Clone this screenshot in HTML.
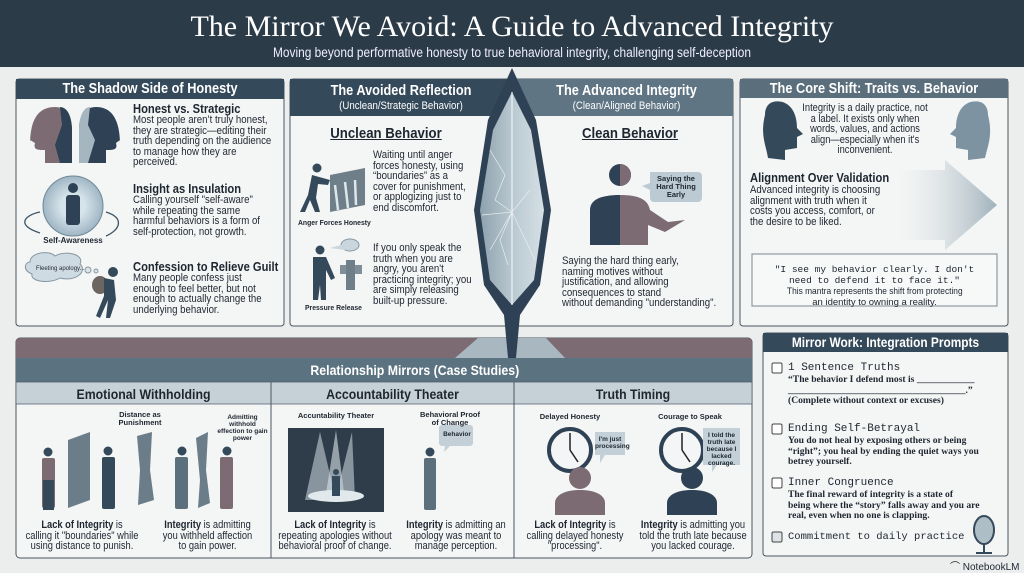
<!DOCTYPE html>
<html><head><meta charset="utf-8">
<style>
*{margin:0;padding:0;box-sizing:border-box}
body{width:1024px;height:571px;background:#eceeee;position:relative;overflow:hidden;font-family:"Liberation Sans Narrow","Liberation Sans",sans-serif;color:#1e2630}
.a{position:absolute}
.t{font-size:10.6px;line-height:10.6px}
.h{font-weight:bold;font-size:13px}
.n{transform:scaleX(.91);transform-origin:0 0;white-space:nowrap}
.h.n{transform:scaleX(.86)}
.nc{transform:scaleX(.88);transform-origin:50% 0}
.ph{position:absolute;color:#fff;font-weight:bold;text-align:center}
.sm{font-size:7.5px;font-weight:bold;text-align:center;line-height:8px}
.mono{font-family:"Liberation Mono",monospace}
.sl{font-family:"Liberation Serif",serif;font-weight:bold;font-size:9.6px;line-height:10.5px}
</style></head><body>
<svg class="a" style="left:0;top:0" width="1024" height="571" viewBox="0 0 1024 571">
<defs>
<linearGradient id="ar" x1="0" x2="1"><stop offset="0" stop-color="#eef1f2" stop-opacity="0.2"/><stop offset="1" stop-color="#9fb1bb"/></linearGradient>
<linearGradient id="mr" x1="0" x2="1"><stop offset="0" stop-color="#8ea2ae"/><stop offset="0.5" stop-color="#b9c8d0"/><stop offset="1" stop-color="#d5e0e5"/></linearGradient>
<radialGradient id="bub"><stop offset="0.4" stop-color="#d6e3ea"/><stop offset="1" stop-color="#9fb6c4"/></radialGradient>
</defs>
<rect x="0" y="0" width="1024" height="67" fill="#2c3b48"/>
<rect x="16" y="79" width="268" height="247" rx="3" fill="#f4f5f5" stroke="#4a5662"/>
<rect x="16" y="79" width="268" height="20" fill="#34495a"/>
<rect x="290" y="79" width="443" height="247" rx="3" fill="#f4f5f5" stroke="#4a5662"/>
<rect x="290" y="79" width="222" height="37" fill="#34495a"/>
<rect x="512" y="79" width="221" height="37" fill="#5f7583"/>
<rect x="740" y="79" width="268" height="247" rx="3" fill="#f4f5f5" stroke="#4a5662"/>
<rect x="740" y="79" width="268" height="19" fill="#5a6e7c"/>
<polygon points="900,170 945,170 945,160 997,205 945,250 945,240 900,240" fill="url(#ar)"/>
<rect x="752" y="254" width="245" height="52" fill="#f7f8f8" stroke="#7b8790"/>
<rect x="16" y="338" width="736" height="220" rx="4" fill="#f4f5f5" stroke="#4a5662"/>
<path d="M20,338 H748 a4,4 0 0 1 4,4 V358 H16 V342 a4,4 0 0 1 4,-4z" fill="#7c6b73"/>
<polygon points="455,358 478,338 546,338 565,358" fill="#a9b8c0"/>
<rect x="16" y="358" width="736" height="24" fill="#5b7380"/>
<rect x="16" y="382" width="736" height="22" fill="#c6d1d7" stroke="#4a5662" stroke-width="0.7"/>
<line x1="271" y1="382" x2="271" y2="558" stroke="#4a5662"/>
<line x1="514" y1="382" x2="514" y2="558" stroke="#4a5662"/>
<rect x="763" y="333" width="245" height="223" rx="3" fill="#f4f5f5" stroke="#4a5662"/>
<rect x="763" y="333" width="245" height="19" fill="#34495a"/>
<path d="M512,68 L536,120 L551,210 L540,285 L520,315 L516,358 L508,358 L504,315 L484,285 L474,210 L488,120 Z" fill="#2f4255"/>
<path d="M512,92 L531,130 L544,210 L534,280 L512,305 L490,280 L480,210 L493,130 Z" fill="url(#mr)"/>
<line x1="512" y1="92" x2="512" y2="305" stroke="#eef3f5" stroke-width="1.2"/>
<path d="M490,150 L505,175 L495,200 L512,212 L500,240 L508,265 M482,215 L512,212 L490,250 M512,212 L530,190 M512,212 L535,260" stroke="#e8eef1" stroke-width="0.7" fill="none"/>
<path d="M30,145 C30,125 35,107 55,107 C68,107 72,118 72,130 V163 H45 L45,150 C38,150 33,150 35,143 L30,140 Z" fill="#7d6b74"/>
<path d="M60,107 C68,107 72,118 72,130 V163 H60 L55,145 L62,125Z" fill="#2f4255"/>
<path d="M120,145 C120,125 115,107 96,107 C83,107 79,118 79,130 V163 H106 L106,150 C113,150 118,150 116,143 L120,140 Z" fill="#2f4255"/>
<path d="M90,107 C83,107 79,118 79,130 V163 H88 L95,140 L88,125Z" fill="#a6b6c0"/>
<circle cx="73" cy="206" r="30" fill="url(#bub)" stroke="#6f8896"/>
<circle cx="73" cy="188" r="5" fill="#2f4255"/><rect x="66" y="195" width="14" height="30" rx="3" fill="#2f4255"/>
<path d="M40,233 C15,225 25,215 40,212 M106,212 C125,218 120,230 106,236" stroke="#3d5566" fill="none" stroke-width="1.3"/>
<path d="M30,262 C30,252 50,250 55,256 C65,250 85,254 80,264 C88,272 75,282 60,278 C50,284 30,282 32,274 C22,270 25,262 30,262Z" fill="#cfdbe2" stroke="#8797a1"/>
<circle cx="88" cy="270" r="3" fill="#dbe4e9" stroke="#8797a1"/><circle cx="96" cy="271" r="2" fill="#dbe4e9" stroke="#8797a1"/>
<circle cx="113" cy="272" r="5" fill="#34495a"/><ellipse cx="100" cy="285" rx="8" ry="9" fill="#6d6560"/><path d="M104,278 L114,280 L116,300 L110,318 L106,318 L108,300 L100,318 L96,316 L104,296Z" fill="#34495a"/>
<polygon points="330,175 365,168 365,205 330,212" fill="#6f7f89"/><path d="M335,185 L338,210 M345,182 L348,208 M355,180 L356,205" stroke="#dde6ea" stroke-width="2.5"/>
<circle cx="317" cy="168" r="4.5" fill="#34495a"/><path d="M312,175 L330,180 L328,185 L318,184 L316,198 L320,212 L315,212 L310,200 L305,212 L300,212 L308,195Z" fill="#34495a"/>
<circle cx="320" cy="250" r="4.5" fill="#34495a"/><path d="M313,257 H326 L335,278 L331,280 L326,270 L326,300 H321 L320,285 L318,300 H313 Z" fill="#34495a"/>
<ellipse cx="350" cy="245" rx="9" ry="6" fill="#c9d6dc" stroke="#8797a1"/><path d="M330,248 L345,244 L345,250Z" fill="#c9d6dc"/>
<rect x="340" y="265" width="22" height="9" fill="#7f8e98"/><rect x="346" y="260" width="9" height="30" fill="#6f7f89"/>
<circle cx="620" cy="175" r="11" fill="#2f4255"/><path d="M620,164 a11,11 0 0 1 0,22z" fill="#7c6b73"/>
<path d="M590,245 V210 C590,200 600,195 620,195 V245Z" fill="#2f4255"/>
<path d="M620,195 C640,195 648,200 650,210 L668,222 L685,220 L665,232 L648,225 V245 H620Z" fill="#7c6b73"/>
<path d="M650,172 H698 a4,4 0 0 1 4,4 V198 a4,4 0 0 1 -4,4 H654 a4,4 0 0 1 -4,-4 V190 L642,186 L650,183Z" fill="#bccbd3"/>
<path d="M765,115 C765,100 778,100 785,103 C795,108 797,120 797,128 L803,134 L797,137 V148 L785,150 V160 L768,158 C766,145 760,135 765,115Z" fill="#34495a"/>
<path d="M988,115 C988,100 975,100 968,103 C958,108 956,120 956,128 L950,134 L956,137 V148 L968,150 V160 L985,158 C988,145 993,135 988,115Z" fill="#7d93a1"/>
<g fill="#34495a">
<circle cx="48" cy="452" r="4.5"/><rect x="42" y="458" width="13" height="50" rx="2" fill="#7c6b73"/><rect x="43" y="480" width="11" height="30"/>
<circle cx="108" cy="451" r="4.5"/><rect x="102" y="457" width="13" height="52" rx="2"/>
<circle cx="182" cy="451" r="4.5"/><rect x="175" y="457" width="13" height="52" rx="2" fill="#5c6f7c"/>
<circle cx="227" cy="451" r="4.5"/><rect x="220" y="457" width="13" height="52" rx="2" fill="#7c6b73"/>
</g>
<polygon points="68,440 90,432 90,500 68,508" fill="#6b7d88"/>
<polygon points="137,436 152,432 150,470 154,500 138,505 140,470" fill="#6b7d88"/>
<polygon points="196,438 208,432 206,470 210,503 198,508 200,480" fill="#6b7d88"/>
<rect x="288" y="428" width="96" height="84" fill="#2f3d4a"/>
<polygon points="320,432 336,500 305,500" fill="#c5d1d7" opacity="0.6"/><polygon points="336,430 345,500 325,500" fill="#dbe3e7" opacity="0.6"/><polygon points="352,432 355,500 335,500" fill="#c5d1d7" opacity="0.6"/>
<ellipse cx="336" cy="496" rx="28" ry="6" fill="#e2e9ec"/>
<circle cx="336" cy="472" r="3" fill="#34495a"/><rect x="332" y="476" width="8" height="20" fill="#34495a"/>
<circle cx="430" cy="452" r="4.5" fill="#34495a"/><rect x="424" y="458" width="12" height="52" rx="2" fill="#5c6f7c"/>
<path d="M442,425 H470 a3,3 0 0 1 3,3 V443 a3,3 0 0 1 -3,3 H450 L444,452 L445,446 H442 a3,3 0 0 1 -3,-3 V428 a3,3 0 0 1 3,-3Z" fill="#c3d0d7"/>
<circle cx="570" cy="450" r="21" fill="#f3f5f6" stroke="#2f4255" stroke-width="4"/><path d="M570,450 V433 M570,450 L578,462" stroke="#222" stroke-width="1.5"/>
<circle cx="580" cy="478" r="11" fill="#7c6b73"/><path d="M555,515 V503 C555,495 565,490 580,490 C595,490 605,495 605,503 V515Z" fill="#7c6b73"/>
<path d="M595,432 H625 V455 H605 L600,463 L600,455 H595Z" fill="#c3d0d7"/>
<circle cx="682" cy="450" r="21" fill="#f3f5f6" stroke="#2f4255" stroke-width="4"/><path d="M682,450 V433 M682,450 L690,462" stroke="#222" stroke-width="1.5"/>
<circle cx="692" cy="478" r="11" fill="#2f4255"/><path d="M667,515 V503 C667,495 677,490 692,490 C707,490 717,495 717,503 V515Z" fill="#2f4255"/>
<path d="M703,428 H740 V465 H717 L712,472 L712,465 H703Z" fill="#c3d0d7"/>
<g fill="#fff" stroke="#444" stroke-width="1"><rect x="772" y="363" width="10" height="10" rx="1.5"/><rect x="772" y="424" width="10" height="10" rx="1.5"/><rect x="772" y="478" width="10" height="10" rx="1.5"/><rect x="772" y="532" width="10" height="10" rx="1.5" fill="#dde3e6"/></g>
<ellipse cx="984" cy="530" rx="10" ry="14" fill="#aebec7" stroke="#34495a" stroke-width="2"/><path d="M984,544 V552 M976,553 H992" stroke="#34495a" stroke-width="2"/>
</svg>

<div class="a" style="left:0;top:10px;width:1024px;text-align:center;color:#fff;font-family:'Liberation Serif',serif;font-size:30px">The Mirror We Avoid: A Guide to Advanced Integrity</div>
<div class="a nc" style="left:0;top:45px;width:1024px;text-align:center;color:#eef;font-size:13.5px">Moving beyond performative honesty to true behavioral integrity, challenging self-deception</div>

<div class="ph nc" style="left:16px;top:81px;width:268px;font-size:14.5px">The Shadow Side of Honesty</div>
<div class="a h n" style="left:133px;top:101px">Honest vs. Strategic</div>
<div class="a t n" style="left:133px;top:115px">Most people aren’t truly honest,<br>they are strategic—editing their<br>truth depending on the audience<br>to manage how they are<br>perceived.</div>
<div class="a h n" style="left:133px;top:181px">Insight as Insulation</div>
<div class="a t n" style="left:133px;top:195px">Calling yourself "self-aware"<br>while repeating the same<br>harmful behaviors is a form of<br>self-protection, not growth.</div>
<div class="a sm" style="left:38px;top:237px;width:70px;font-size:8px">Self-Awareness</div>
<div class="a" style="left:36px;top:266px;font-size:6px">Fleeting apology...</div>
<div class="a h n" style="left:133px;top:259px">Confession to Relieve Guilt</div>
<div class="a t n" style="left:133px;top:273px">Many people confess just<br>enough to feel better, but not<br>enough to actually change the<br>underlying behavior.</div>

<div class="ph nc" style="left:290px;top:84px;width:222px;font-size:14.5px;line-height:14px">The Avoided Reflection<br><span style="font-weight:normal;font-size:11px">(Unclean/Strategic Behavior)</span></div>
<div class="ph nc" style="left:520px;top:84px;width:213px;font-size:14.5px;line-height:14px">The Advanced Integrity<br><span style="font-weight:normal;font-size:11px">(Clean/Aligned Behavior)</span></div>
<div class="a nc" style="left:316px;top:125px;width:140px;text-align:center;font-weight:bold;font-size:15px;text-decoration:underline">Unclean Behavior</div>
<div class="a t n" style="left:373px;top:150px">Waiting until anger<br>forces honesty, using<br>“boundaries” as a<br>cover for punishment,<br>or applogizing just to<br>end discomfort.</div>
<div class="a sm n" style="left:298px;top:219px">Anger Forces Honesty</div>
<div class="a t n" style="left:373px;top:243px">If you only speak the<br>truth when you are<br>angry, you aren't<br>practicing integrity; you<br>are simply releasing<br>built-up pressure.</div>
<div class="a sm n" style="left:305px;top:304px">Pressure Release</div>
<div class="a nc" style="left:570px;top:125px;width:120px;text-align:center;font-weight:bold;font-size:15px;text-decoration:underline">Clean Behavior</div>
<div class="a sm" style="left:652px;top:175px;width:48px">Saying the Hard Thing Early</div>
<div class="a t n" style="left:562px;top:256px">Saying the hard thing early,<br>naming motives without<br>justification, and allowing<br>consequences to stand<br>without demanding "understanding".</div>

<div class="ph nc" style="left:740px;top:81px;width:268px;font-size:14.5px">The Core Shift: Traits vs. Behavior</div>
<div class="a t nc" style="left:790px;top:103px;width:150px;text-align:center">Integrity is a daily practice, not a label. It exists only when words, values, and actions align—especially when it's inconvenient.</div>
<div class="a h n" style="left:750px;top:170px">Alignment Over Validation</div>
<div class="a t n" style="left:750px;top:185px">Advanced integrity is choosing<br>alignment with truth when it<br>costs you access, comfort, or<br>the desire to be liked.</div>
<div class="a" style="left:752px;top:264px;width:245px;text-align:center;font-size:9.5px;line-height:11px"><span class="mono">"I see my behavior clearly. I don't<br>need to defend it to face it."</span><br><span class="nc" style="display:inline-block;white-space:nowrap">This mantra represents the shift from protecting</span><br>an identity to owning a reality.</div>

<div class="ph nc" style="left:16px;top:362px;width:736px;font-size:14px;padding-left:70px">Relationship Mirrors (Case Studies)</div>
<div class="a nc" style="left:16px;top:386px;width:255px;text-align:center;font-weight:bold;font-size:14px">Emotional Withholding</div>
<div class="a nc" style="left:271px;top:386px;width:243px;text-align:center;font-weight:bold;font-size:14px">Accountability Theater</div>
<div class="a nc" style="left:514px;top:386px;width:238px;text-align:center;font-weight:bold;font-size:14px">Truth Timing</div>
<div class="a sm" style="left:110px;top:411px;width:60px">Distance as<br>Punishment</div>
<div class="a sm" style="left:215px;top:414px;width:55px;font-size:6.5px;line-height:7px">Admitting withhold effection to gain power</div>
<div class="a sm" style="left:286px;top:412px;width:100px">Accuntability Theater</div>
<div class="a sm" style="left:415px;top:411px;width:70px">Behavioral Proof<br>of Change</div>
<div class="a sm" style="left:442px;top:431px;width:30px;font-size:6.5px">Behavior</div>
<div class="a sm" style="left:535px;top:413px;width:70px">Delayed Honesty</div>
<div class="a sm" style="left:650px;top:413px;width:80px">Courage to Speak</div>
<div class="a sm" style="left:595px;top:436px;width:30px;font-size:6.5px;line-height:7px">I'm just processing</div>
<div class="a sm" style="left:703px;top:432px;width:37px;font-size:6.5px;line-height:7px">I told the truth late because I lacked courage.</div>

<div class="a t nc" style="left:12px;top:520px;width:140px;text-align:center"><b>Lack of Integrity</b> is<br>calling it "boundaries" while<br>using distance to punish.</div>
<div class="a t nc" style="left:145px;top:520px;width:125px;text-align:center"><b>Integrity</b> is admitting<br>you withheld affection<br>to gain power.</div>
<div class="a t nc" style="left:270px;top:520px;width:130px;text-align:center"><b>Lack of Integrity</b> is<br>repeating apologies without<br>behavioral proof of change.</div>
<div class="a t nc" style="left:395px;top:520px;width:122px;text-align:center"><b>Integrity</b> is admitting an<br>apology was meant to<br>manage perception.</div>
<div class="a t nc" style="left:515px;top:520px;width:120px;text-align:center"><b>Lack of Integrity</b> is<br>calling delayed honesty<br>"processing".</div>
<div class="a t nc" style="left:628px;top:520px;width:130px;text-align:center"><b>Integrity</b> is admitting you<br>told the truth late because<br>you lacked courage.</div>

<div class="ph nc" style="left:763px;top:335px;width:245px;font-size:13.5px">Mirror Work: Integration Prompts</div>
<div class="a mono" style="left:788px;top:362px;font-size:11px">1 Sentence Truths</div>
<div class="a sl" style="left:788px;top:375px">“The behavior I defend most is ____________<br>_____________________________________.”<br>(Complete without context or excuses)</div>
<div class="a mono" style="left:788px;top:423px;font-size:11px">Ending Self-Betrayal</div>
<div class="a sl" style="left:788px;top:436px">You do not heal by exposing others or being<br>“right”; you heal by ending the quiet ways you<br>betrey yourself.</div>
<div class="a mono" style="left:788px;top:477px;font-size:11px">Inner Congruence</div>
<div class="a sl" style="left:788px;top:490px">The final reward of integrity is a state of<br>being where the “story” falls away and you are<br>real, even when no one is clapping.</div>
<div class="a mono" style="left:788px;top:531px;font-size:10.5px">Commitment to daily practice</div>
<div class="a" style="left:950px;top:558px;font-size:10px;font-family:'Liberation Sans',sans-serif">⌒ NotebookLM</div>
</body></html>
